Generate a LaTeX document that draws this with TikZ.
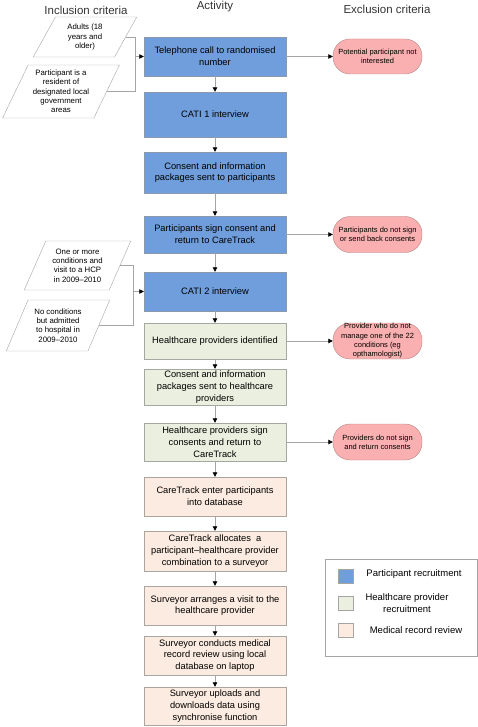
\documentclass[tikz,border=0pt]{standalone}
\usepackage{fontspec}
\setmainfont{Liberation Sans}
\usetikzlibrary{arrows.meta, shapes.geometric}

\definecolor{partblue}{RGB}{112,157,219}
\definecolor{partedge}{RGB}{140,152,172}
\definecolor{hcpgreen}{RGB}{234,239,223}
\definecolor{hcpedge}{RGB}{165,168,160}
\definecolor{medpeach}{RGB}{252,235,224}
\definecolor{mededge}{RGB}{172,164,158}
\definecolor{exclpink}{RGB}{250,176,176}
\definecolor{excledge}{RGB}{182,132,132}
\definecolor{linkgray}{RGB}{165,165,165}

\begin{document}
\begin{tikzpicture}[
      x=1pt, y=-1pt,
      activity/.style={draw, rectangle, inner sep=0pt, minimum width=142pt, align=center,
        font=\fontsize{9.3}{11.7}\selectfont},
      partrec/.style={activity, fill=partblue, draw=partedge},
      hcprec/.style={activity, fill=hcpgreen, draw=hcpedge},
      medrev/.style={activity, fill=medpeach, draw=mededge},
      excl/.style={draw=excledge, fill=exclpink, rectangle, rounded corners=17pt, inner sep=0pt,
        minimum width=89pt, minimum height=36pt, align=center, font=\fontsize{7.5}{9.3}\selectfont},
      incl/.style={draw=linkgray, trapezium, trapezium left angle=63, trapezium right angle=117,
        trapezium stretches=true, inner sep=0pt, align=center, font=\fontsize{7.8}{9.3}\selectfont},
      header/.style={font=\fontsize{11.5}{13}\selectfont, text=black!80},
      swatch/.style={draw=linkgray, minimum width=15pt, minimum height=14pt, inner sep=0pt},
      legtext/.style={font=\fontsize{9.5}{11.5}\selectfont, align=center},
      link/.style={draw=linkgray, line width=0.8pt},
      arr/.style={link, -{Triangle[black, length=4.5pt, width=4.5pt]}}
    ]
    \useasboundingbox (0,0) rectangle (478,727);

    % Headers
    \node[header] (hincl) at (86,10) {Inclusion criteria};
    \node[header] (hact) at (215,7) {Activity};
    \node[header] (hexcl) at (387,9) {Exclusion criteria};

    % Activities
    \node[partrec, minimum height=39pt] (act1) at (215,56.5) {Telephone call to randomised\\number};
    \node[partrec, minimum height=45pt] (act2) at (215,114.5) {CATI 1 interview};
    \node[partrec, minimum height=41pt] (act3) at (215,172.5) {Consent and information\\packages sent to participants};
    \node[partrec, minimum height=37pt] (act4) at (215,234.5) {Participants sign consent and\\return to CareTrack};
    \node[partrec, minimum height=39pt] (act5) at (215,291.5) {CATI 2 interview};
    \node[hcprec, minimum height=36pt] (act6) at (215,341) {Healthcare providers identified};
    \node[hcprec, minimum height=36pt] (act7) at (215,387) {Consent and information\\packages sent to healthcare\\providers};
    \node[hcprec, minimum height=38pt] (act8) at (215,442) {Healthcare providers sign\\consents and return to\\CareTrack};
    \node[medrev, minimum height=39pt] (act9) at (215,496.5) {CareTrack enter participants\\into database};
    \node[medrev, minimum height=40pt] (act10) at (215,551) {CareTrack allocates\ \ a\\participant–healthcare provider\\combination to a surveyor};
    \node[medrev, minimum height=39pt] (act11) at (215,605.5) {Surveyor arranges a visit to the\\healthcare provider};
    \node[medrev, minimum height=39pt] (act12) at (215,655.5) {Surveyor conducts medical\\record review using local\\database on laptop};
    \node[medrev, minimum height=38pt] (act13) at (215,706) {Surveyor uploads and\\downloads data using\\synchronise function};

    % Exclusion criteria
    \node[excl, minimum height=35pt] (exc1) at (377.5,56.5) {Potential participant not\\interested};
    \node[excl] (exc2) at (377.5,234.5) {Participants do not sign\\or send back consents};
    \node[excl] (exc3) at (377.5,341) {Provider who do not\\manage one of the 22\\conditions (eg\\opthamologist)};
    \node[excl] (exc4) at (377.5,442) {Providers do not sign\\and return consents};

    % Inclusion criteria
    \node[incl, minimum width=104pt, minimum height=40pt] (inc1) at (85,37) {Adults (18\\years and\\older)};
    \node[incl, minimum width=118pt, minimum height=53pt] (inc2) at (61,91.5) {Participant is a\\resident of\\designated local\\government\\areas};
    \node[incl, minimum width=107pt, minimum height=49pt] (inc3) at (77.5,265.5) {One or more\\conditions and\\visit to a HCP\\in 2009–2010};
    \node[incl, minimum width=104pt, minimum height=51pt] (inc4) at (58,325.5) {No conditions\\but admitted\\to hospital in\\2009–2010};
    \coordinate (join1) at (135,56.5);
    \coordinate (join2) at (133,291.5);

    % Arrows
    \foreach \a/\b in {act1/act2, act2/act3, act3/act4, act4/act5, act5/act6, act6/act7,
        act7/act8, act8/act9, act9/act10, act10/act11, act11/act12, act12/act13}
      \draw[arr] (\a) -- (\b);
    \draw[arr] (act1) -- (exc1);
    \draw[arr] (act4) -- (exc2);
    \draw[arr] (act6) -- (exc3);
    \draw[arr] (act8) -- (exc4);
    \draw[link] (inc1.east) -| (join1);
    \draw[link] (inc2.east) -| (join1);
    \draw[arr] (join1) -- (act1);
    \draw[link] (inc3.east) -| (join2);
    \draw[link] (inc4.east) -| (join2);
    \draw[arr] (join2) -- (act5);

    % Legend
    \node[draw=linkgray, minimum width=152pt, minimum height=97pt, inner sep=0pt] (legend) at (401,607.5) {};
    \node[swatch, fill=partblue] (keyblue) at (345.5,576) {};
    \node[swatch, fill=hcpgreen] (keygreen) at (345.5,603.5) {};
    \node[swatch, fill=medpeach] (keypeach) at (345.5,630.5) {};
    \node[legtext] (txtblue) at (414,574) {Participant recruitment};
    \node[legtext] (txtgreen) at (407,603) {Healthcare provider\\recruitment};
    \node[legtext] (txtpeach) at (416,630) {Medical record review};

  \end{tikzpicture}
\end{document}
